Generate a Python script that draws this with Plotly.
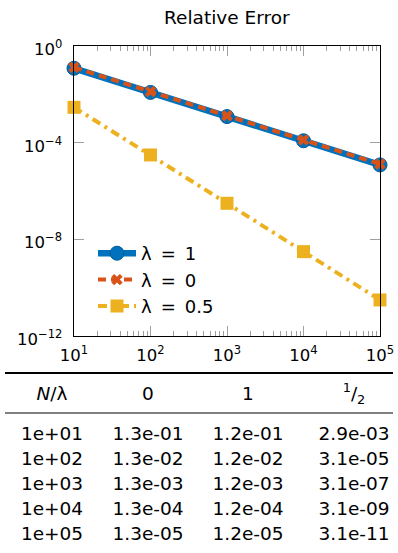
import math
import plotly.graph_objects as go

# ---------------- data ----------------
N = [1e1, 1e2, 1e3, 1e4, 1e5]
err_lam1 = [1.2e-1, 1.2e-2, 1.2e-3, 1.2e-4, 1.2e-5]
err_lam0 = [1.3e-1, 1.3e-2, 1.3e-3, 1.3e-4, 1.3e-5]
err_lamhalf = [2.9e-3, 3.1e-5, 3.1e-7, 3.1e-9, 3.1e-11]
series_names = ["λ\u2002=\u20021", "λ\u2002=\u20020", "λ\u2002=\u20020.5"]

x_tick_vals = [1e1, 1e2, 1e3, 1e4, 1e5]
x_tick_text = ["10<sup>1</sup>", "10<sup>2</sup>", "10<sup>3</sup>", "10<sup>4</sup>", "10<sup>5</sup>"]
y_tick_vals = [1e0, 1e-4, 1e-8, 1e-12]
y_tick_text = ["10<sup>0</sup>", "10<sup>−4</sup>", "10<sup>−8</sup>", "10<sup>−12</sup>"]

table_header = ["<i>N</i>/λ", "0", "1", "<sup>1</sup>/<sub>2</sub>"]

# ---------------- styling / layout ----------------
W, H = 398, 553
BLUE, ORANGE, YELLOW = "#0072BD", "#D95319", "#EDB120"
FONT = "DejaVu Sans"


def fx(p):  # page pixel -> paper fraction (x)
    return p / W


def fy(p):  # page pixel -> paper fraction (y)
    return 1 - p / H


px_l, px_r, px_t, px_b = 74, 380, 46, 336
ylabel_right = 63

col_x = [52, 148, 248, 354]
header_y = 395
row0_y = 435
row_pitch = 25

fig = go.Figure()

fig.add_trace(go.Scatter(
    x=N, y=err_lam1, name=series_names[0], legendgroup="a",
    mode="lines+markers", cliponaxis=False,
    line=dict(color=BLUE, width=6.5),
    marker=dict(symbol="circle", size=14, color=BLUE, line=dict(color="#005a96", width=1)),
))
fig.add_trace(go.Scatter(
    x=N, y=err_lam0, name=series_names[1], legendgroup="b",
    mode="lines+markers", cliponaxis=False,
    line=dict(color=ORANGE, width=4, dash="8px,5px"),
    marker=dict(symbol="x", size=10, color=ORANGE, line=dict(width=0)),
))
fig.add_trace(go.Scatter(
    x=N, y=err_lamhalf, name=series_names[2], legendgroup="c",
    mode="lines+markers", cliponaxis=False,
    line=dict(color=YELLOW, width=4, dash="9px,5px,3px,5px"),
    marker=dict(symbol="square", size=13, color=YELLOW, line=dict(width=0)),
))

# table text drawn on a hidden pixel-scaled axis pair
cols = [
    ["%.0e" % v for v in N],
    ["%.1e" % v for v in err_lam0],
    ["%.1e" % v for v in err_lam1],
    ["%.1e" % v for v in err_lamhalf],
]
fig.add_trace(go.Scatter(
    x=col_x, y=[header_y] * len(col_x), text=table_header,
    mode="text", textposition="middle center", showlegend=False,
    textfont=dict(family=FONT, size=18.5, color="black"),
    xaxis="x2", yaxis="y2", hoverinfo="skip",
))
bx, by, bt = [], [], []
for ci, col in enumerate(cols):
    for ri, txt in enumerate(col):
        bx.append(col_x[ci])
        by.append(row0_y + ri * row_pitch)
        bt.append(txt)
fig.add_trace(go.Scatter(
    x=bx, y=by, text=bt, mode="text", textposition="middle center",
    showlegend=False, textfont=dict(family=FONT, size=18.5, color="black"),
    xaxis="x2", yaxis="y2", hoverinfo="skip",
))

axis_common = dict(
    type="log", showgrid=False, zeroline=False, showline=True,
    linecolor="black", linewidth=1, mirror="allticks", automargin=False,
    ticks="inside", ticklen=10, tickcolor="#a0a0a0", tickwidth=1,
    tickmode="array", tickfont=dict(family=FONT, size=16.5, color="black"),
)

# y tick labels placed at the tick values of the log axis
y_label_ann = [
    dict(text=t, x=fx(ylabel_right), y=math.log10(v), xref="paper", yref="y",
         xanchor="right", yanchor="middle", showarrow=False, borderpad=0, yshift=-2,
         font=dict(family=FONT, size=16.5, color="black"))
    for v, t in zip(y_tick_vals, y_tick_text)
]

fig.update_layout(
    width=W, height=H, autosize=False,
    margin=dict(l=0, r=0, t=0, b=0, pad=0),
    paper_bgcolor="white", plot_bgcolor="rgba(0,0,0,0)",
    font=dict(family=FONT, color="black"),
    hovermode=False,
    xaxis=dict(**axis_common, domain=[fx(px_l), fx(px_r)], range=[1, 5],
               tickvals=x_tick_vals, ticktext=x_tick_text, ticklabelstandoff=4,
               minor=dict(ticks="inside", ticklen=5, tickcolor="#a0a0a0",
                          dtick="D1", showgrid=False)),
    yaxis=dict(**axis_common, domain=[fy(px_b), fy(px_t)], range=[-12, 0],
               tickvals=y_tick_vals, showticklabels=False),
    xaxis2=dict(domain=[0, 1], range=[0, W], visible=False, fixedrange=True,
                anchor="y2", automargin=False),
    yaxis2=dict(domain=[0, 1], range=[H, 0], visible=False, fixedrange=True,
                anchor="x2", automargin=False),
    legend=dict(x=fx(93), y=fy(235), xanchor="left", yanchor="top",
                bgcolor="rgba(0,0,0,0)", font=dict(family=FONT, size=18),
                traceorder="grouped", tracegroupgap=0, itemwidth=38),
    showlegend=True,
    annotations=[dict(text="Relative Error", x=fx((px_l + px_r) / 2), y=fy(17),
                      xref="paper", yref="paper", xanchor="center", yanchor="middle",
                      borderpad=0, showarrow=False,
                      font=dict(family=FONT, size=18.5, color="black"))] + y_label_ann,
    shapes=[
        dict(type="line", xref="paper", yref="paper", x0=fx(5), x1=fx(393),
             y0=fy(373), y1=fy(373), line=dict(color="black", width=2)),
        dict(type="line", xref="paper", yref="paper", x0=fx(5), x1=fx(393),
             y0=fy(413), y1=fy(413), line=dict(color="black", width=1)),
    ],
)

fig.write_html(
    "out.html",
    config={"displayModeBar": False, "staticPlot": True},
    post_script="document.body.style.margin='0px';document.body.style.overflow='hidden';",
)
